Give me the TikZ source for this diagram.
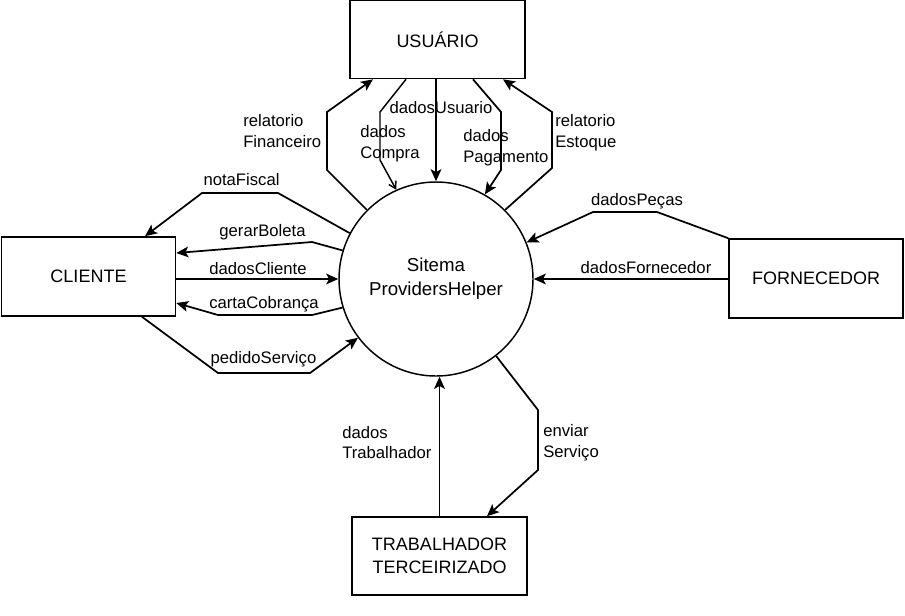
\documentclass[tikz,border=0pt]{standalone}
\usepackage{fontspec}
\setmainfont{Liberation Sans}
\usetikzlibrary{arrows.meta}
\begin{document}
\begin{tikzpicture}[x=0.75pt,y=-0.75pt,
  ent/.style={draw,line width=1.2pt,minimum width=131pt,minimum height=58.5pt,font=\fontsize{13.5}{17}\selectfont,align=center,inner sep=0pt},
  proc/.style={draw,circle,line width=1.1pt,minimum size=145.5pt,inner sep=0pt,font=\fontsize{14}{18}\selectfont,align=center},
  flow/.style={line width=1.3pt,-{Stealth[length=9pt,width=8pt,inset=2pt]}},
  thinflow/.style={line width=1.1pt,-{Straight Barb[length=5pt,width=6pt]}},
  lbl/.style={font=\fontsize{12.5}{15.5}\selectfont,inner sep=0pt,align=left},
]
\useasboundingbox (0,0) rectangle (905,615);
\fill[white] (0,0) rectangle (905,615);

\node[ent] (usr) at (437.5,39.5) {USUÁRIO};
\node[ent,minimum width=130.5pt,minimum height=59.25pt] (cli) at (88.5,276.5) {CLIENTE};
\node[ent,minimum width=130.5pt,minimum height=59.25pt] (forn) at (816,278.5) {FORNECEDOR};
\node[ent] (trab) at (439.5,556) {TRABALHADOR\\TERCEIRIZADO};
\node[proc] (sys) at (436,279) {Sitema\\ProvidersHelper};

% USUARIO flows
\draw[flow] (sys.135) -- (327,170) -- (327,112) -- (373,0 |- usr.south);
\draw[thinflow] (406,0 |- usr.south) -- (380,112) -- (380,160) -- (sys.114);
\draw[flow] (sys.north |- usr.south) -- (sys.north);
\draw[flow] (473,0 |- usr.south) -- (501,112) -- (501,170) -- (sys.60);
\draw[flow] (sys.45) -- (552,168) -- (552,112) -- (503,0 |- usr.south);

% CLIENTE flows
\draw[flow] (sys.152) -- (278,193) -- (202,193) -- (145,0 |- cli.north);
\draw[flow] (sys.163) -- (312,242) -- (cli.east |- 0,253);
\draw[flow] (cli.east |- sys.west) -- (sys.west);
\draw[flow] (sys.197) -- (312,315) -- (218,315) -- (cli.east |- 0,303);
\draw[flow] (142,0 |- cli.south) -- (218,373) -- (310,373) -- (sys.217);

% FORNECEDOR flows
\draw[flow] (forn.north west) -- (657,212) -- (593,212) -- (sys.22);
\draw[flow] (forn.west |- sys.east) -- (sys.east);

% TRABALHADOR flows
\draw[flow] (trab.north) -- (trab.north |- sys.south);
\draw[flow] (sys.308) -- (538,410) -- (538,470) -- (487,0 |- trab.north);

% labels
\node[lbl,anchor=west] (l1) at (243,131) {relatorio\\Financeiro};
\node[lbl,anchor=west] (l2) at (360,143.5) {dados\\Compra};
\node[lbl] (l3) at (441,108) {dadosUsuario};
\node[lbl,anchor=west] (l4) at (463,147.5) {dados\\Pagamento};
\node[lbl,anchor=west] (l5) at (555,132.5) {relatorio\\Estoque};
\node[lbl] (l6) at (241.5,180) {notaFiscal};
\node[lbl] (l7) at (262.5,232) {gerarBoleta};
\node[lbl] (l8) at (258,269) {dadosCliente};
\node[lbl] (l9) at (264,304) {cartaCobrança};
\node[lbl] (l10) at (263.5,359) {pedidoServiço};
\node[lbl] (l11) at (637,201) {dadosPeças};
\node[lbl] (l12) at (646,268) {dadosFornecedor};
\node[lbl,anchor=west] (l13) at (342,442.5) {dados\\Trabalhador};
\node[lbl,anchor=west] (l14) at (543,443) {enviar\\Serviço};
\end{tikzpicture}
\end{document}
